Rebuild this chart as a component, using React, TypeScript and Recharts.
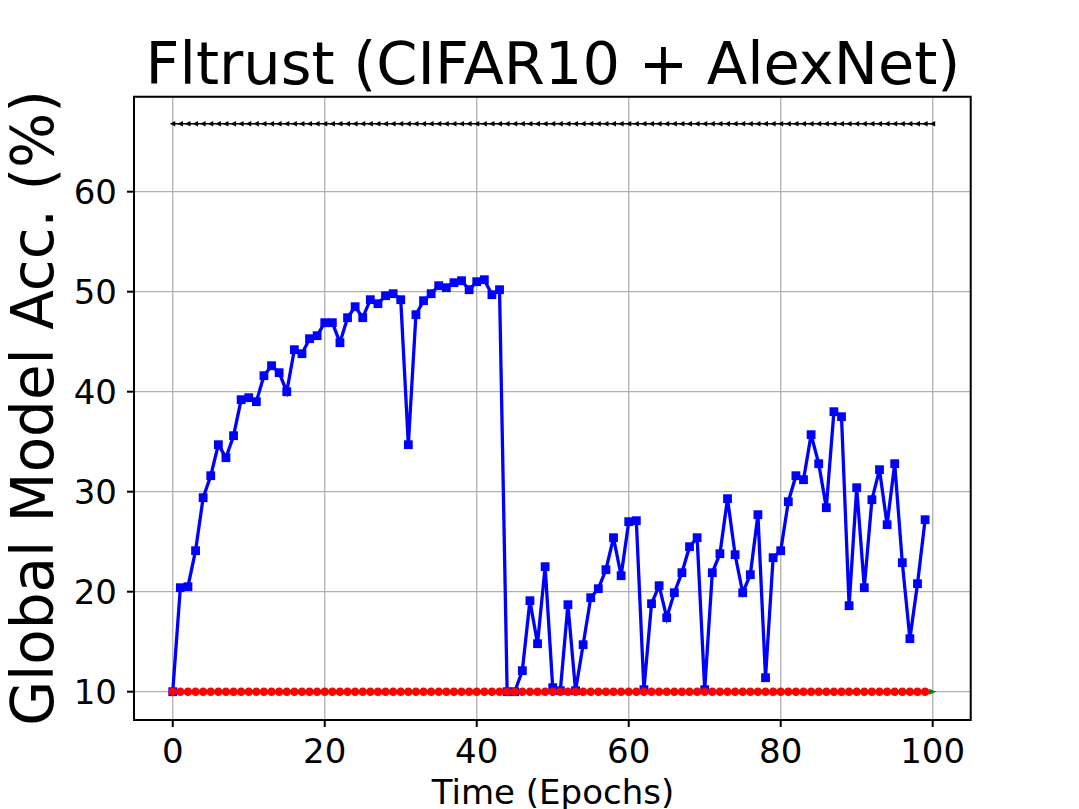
import React from "react";
import {
  LineChart,
  Line,
  XAxis,
  YAxis,
  CartesianGrid,
  ReferenceArea,
} from "recharts";

// accuracy of the global model per epoch
const attackedAcc = [
  10, 20.4, 20.5, 24.1, 29.4, 31.6, 34.7, 33.4, 35.6, 39.2,
  39.4, 39.0, 41.6, 42.6, 41.9, 40.0, 44.2, 43.8, 45.3, 45.6,
  46.9, 46.9, 44.9, 47.4, 48.5, 47.4, 49.2, 48.8, 49.6, 49.8,
  49.2, 34.7, 47.7, 49.1, 49.8, 50.6, 50.4, 50.9, 51.1, 50.2,
  51.0, 51.2, 49.7, 50.2, 10.0, 10.0, 12.1, 19.1, 14.8, 22.5,
  10.4, 10.1, 18.7, 10.1, 14.7, 19.4, 20.3, 22.2, 25.4, 21.6,
  27.0, 27.1, 10.2, 18.8, 20.6, 17.4, 19.9, 21.9, 24.5, 25.4,
  10.2, 21.9, 23.8, 29.3, 23.7, 19.9, 21.7, 27.7, 11.4, 23.4,
  24.1, 29.0, 31.6, 31.2, 35.7, 32.8, 28.4, 38.0, 37.5, 18.6,
  30.4, 20.4, 29.2, 32.2, 26.7, 32.8, 22.9, 15.3, 20.8, 27.2,
];

const collapsedAcc = [
  10, 10, 10, 10, 10, 10, 10, 10, 10, 10,
  10, 10, 10, 10, 10, 10, 10, 10, 10, 10,
  10, 10, 10, 10, 10, 10, 10, 10, 10, 10,
  10, 10, 10, 10, 10, 10, 10, 10, 10, 10,
  10, 10, 10, 10, 10, 10, 10, 10, 10, 10,
  10, 10, 10, 10, 10, 10, 10, 10, 10, 10,
  10, 10, 10, 10, 10, 10, 10, 10, 10, 10,
  10, 10, 10, 10, 10, 10, 10, 10, 10, 10,
  10, 10, 10, 10, 10, 10, 10, 10, 10, 10,
  10, 10, 10, 10, 10, 10, 10, 10, 10, 10,
];

const cleanAcc = [
  66.8, 66.8, 66.8, 66.8, 66.8, 66.8, 66.8, 66.8, 66.8, 66.8,
  66.8, 66.8, 66.8, 66.8, 66.8, 66.8, 66.8, 66.8, 66.8, 66.8,
  66.8, 66.8, 66.8, 66.8, 66.8, 66.8, 66.8, 66.8, 66.8, 66.8,
  66.8, 66.8, 66.8, 66.8, 66.8, 66.8, 66.8, 66.8, 66.8, 66.8,
  66.8, 66.8, 66.8, 66.8, 66.8, 66.8, 66.8, 66.8, 66.8, 66.8,
  66.8, 66.8, 66.8, 66.8, 66.8, 66.8, 66.8, 66.8, 66.8, 66.8,
  66.8, 66.8, 66.8, 66.8, 66.8, 66.8, 66.8, 66.8, 66.8, 66.8,
  66.8, 66.8, 66.8, 66.8, 66.8, 66.8, 66.8, 66.8, 66.8, 66.8,
  66.8, 66.8, 66.8, 66.8, 66.8, 66.8, 66.8, 66.8, 66.8, 66.8,
  66.8, 66.8, 66.8, 66.8, 66.8, 66.8, 66.8, 66.8, 66.8, 66.8,
  66.8,
];

const finalEpoch = [100];
const finalAcc = [10];

const xTicks = [0, 20, 40, 60, 80, 100];
const yTicks = [10, 20, 30, 40, 50, 60];

const toPoints = (vals: number[], start = 0) =>
  vals.map((v, i) => ({ x: start + i, y: v }));

const blueData = toPoints(attackedAcc);
const redData = toPoints(collapsedAcc);
const blackData = toPoints(cleanAcc);
const greenData = finalEpoch.map((x, i) => ({ x, y: finalAcc[i] }));

const FONT = "'DejaVu Sans', sans-serif";

const Square = (p: any) => {
  if (p.cx == null || p.cy == null) return <g key={`s${p.index}`} />;
  return (
    <rect key={`s${p.index}`} x={p.cx - 4.4} y={p.cy - 4.4} width={8.8} height={8.8} fill="#0000ff" />
  );
};

const Circle = (p: any) => {
  if (p.cx == null || p.cy == null) return <g key={`c${p.index}`} />;
  return <circle key={`c${p.index}`} cx={p.cx} cy={p.cy} r={4.3} fill="#ff0000" />;
};

const LeftTri = (p: any) => {
  if (p.cx == null || p.cy == null) return <g key={`t${p.index}`} />;
  const { cx, cy } = p;
  return (
    <polygon
      key={`t${p.index}`}
      points={`${cx - 3},${cy} ${cx + 2.5},${cy - 2.8} ${cx + 2.5},${cy + 2.8}`}
      fill="#000"
    />
  );
};

const RightTri = (p: any) => {
  if (p.cx == null || p.cy == null) return <g key={`g${p.index}`} />;
  const { cx, cy } = p;
  return (
    <polygon
      key={`g${p.index}`}
      points={`${cx - 3.5},${cy - 3} ${cx + 3.5},${cy} ${cx - 3.5},${cy + 3}`}
      fill="#008000"
    />
  );
};

export default function App() {
  return (
    <div
      style={{
        position: "fixed",
        left: 0,
        top: 0,
        width: 1079,
        height: 809,
        background: "#fff",
        fontFamily: FONT,
      }}
    >
      <div
        style={{
          position: "absolute",
          left: 0,
          width: 1106,
          top: 34,
          textAlign: "center",
          fontSize: 59,
          lineHeight: "59px",
          color: "#000",
          whiteSpace: "nowrap",
        }}
      >
        Fltrust (CIFAR10 + AlexNet)
      </div>
      <LineChart
        width={1079}
        height={809}
        margin={{ top: 96.7, right: 108.3, bottom: 0, left: 0 }}
      >
        <CartesianGrid stroke="#b0b0b0" strokeWidth={1.3} />
        <XAxis
          type="number"
          dataKey="x"
          domain={[-5.1, 105]}
          ticks={xTicks}
          height={89}
          axisLine={false}
          tickLine={{ stroke: "#000", strokeWidth: 2 }}
          tickSize={7}
          tickMargin={12}
          tick={{ fill: "#000", fontSize: 34, fontFamily: FONT }}
          allowDataOverflow
          label={{
            content: () => (
              <text x={553} y={804} textAnchor="middle" fontSize={34} fontFamily={FONT} fill="#000">
                Time (Epochs)
              </text>
            ),
          }}
        />
        <YAxis
          type="number"
          domain={[7.17, 69.5]}
          ticks={yTicks}
          width={134}
          axisLine={false}
          tickLine={{ stroke: "#000", strokeWidth: 2 }}
          tickSize={7}
          tickMargin={10}
          tick={{ fill: "#000", fontSize: 34, fontFamily: FONT }}
          allowDataOverflow
          label={{
            content: () => (
              <text
                x={53}
                y={408}
                transform="rotate(-90 53 408)"
                textAnchor="middle"
                fontSize={58}
                fontFamily={FONT}
                fill="#000"
              >
                Global Model Acc. (%)
              </text>
            ),
          }}
        />
        <Line
          data={blackData}
          dataKey="y"
          stroke="#000"
          strokeWidth={1.5}
          dot={LeftTri}
          activeDot={false}
          isAnimationActive={false}
        />
        <Line
          data={blueData}
          dataKey="y"
          stroke="#0000ff"
          strokeWidth={3.3}
          dot={Square}
          activeDot={false}
          isAnimationActive={false}
        />
        <Line
          data={redData}
          dataKey="y"
          stroke="#ff0000"
          strokeWidth={3.3}
          dot={Circle}
          activeDot={false}
          isAnimationActive={false}
        />
        <Line
          data={greenData}
          dataKey="y"
          stroke="#008000"
          strokeWidth={1.5}
          dot={RightTri}
          activeDot={false}
          isAnimationActive={false}
        />
        <ReferenceArea
          x1={-5.1}
          x2={105}
          y1={7.17}
          y2={69.5}
          fill="none"
          fillOpacity={0}
          stroke="#000"
          strokeWidth={2}
          ifOverflow="visible"
        />
      </LineChart>
    </div>
  );
}
